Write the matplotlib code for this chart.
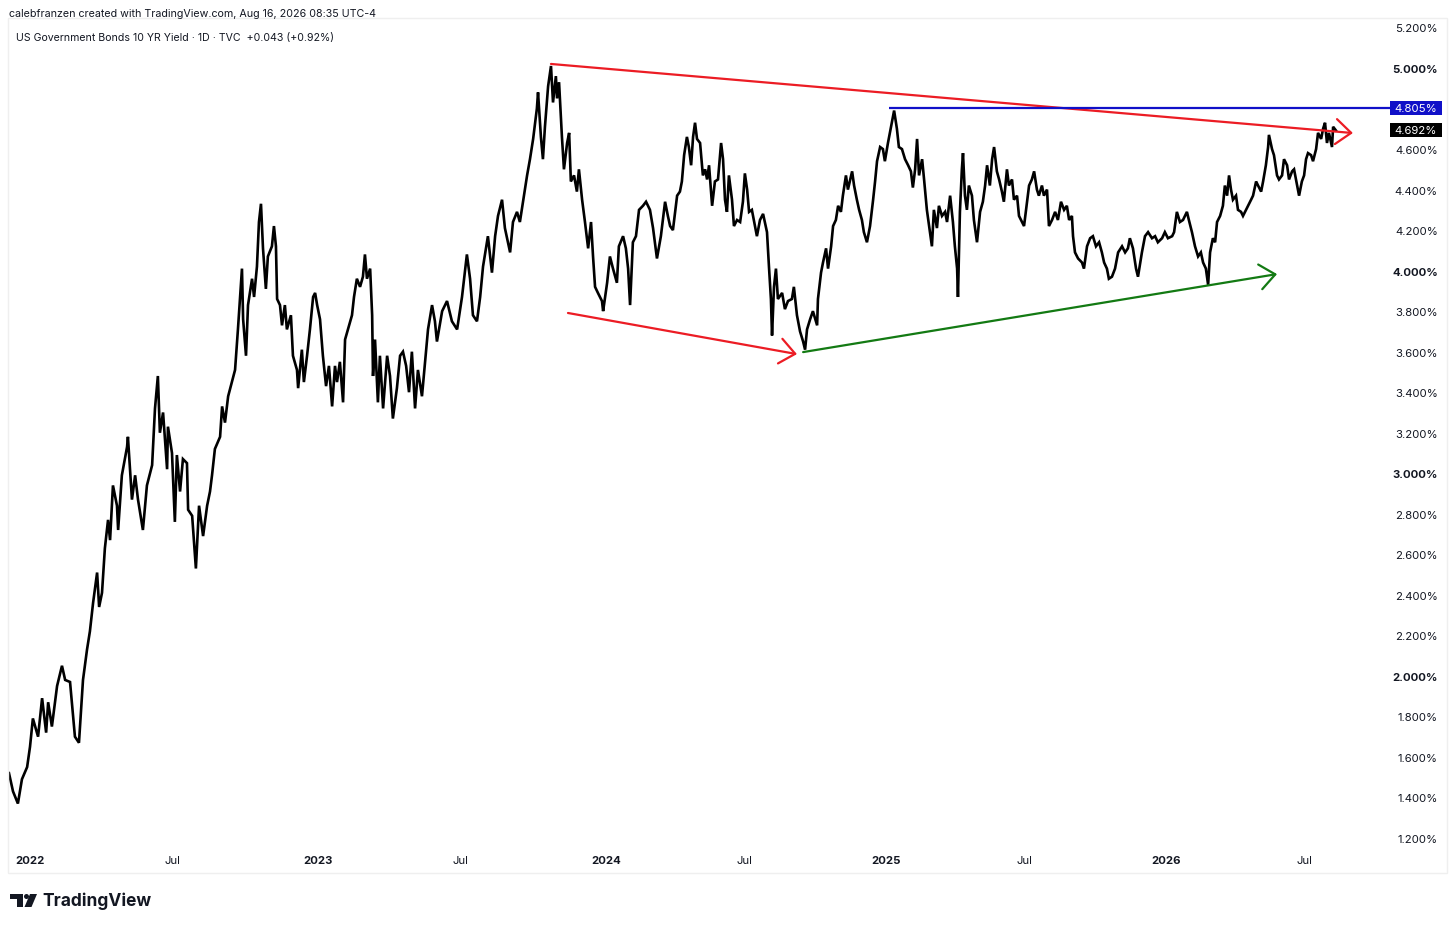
import numpy as np
import matplotlib.pyplot as plt
from matplotlib.patches import Rectangle, Ellipse, Polygon
from matplotlib.transforms import blended_transform_factory

plt.rcParams['font.family'] = ['Inter', 'DejaVu Sans']

# daily-ish closes: (decimal year, yield %)
pts_2022 = [
    (2021.927, 1.52), (2021.941, 1.43), (2021.958, 1.37), (2021.972, 1.49), (2021.990, 1.55),
    (2022.000, 1.65), (2022.010, 1.79), (2022.028, 1.70), (2022.042, 1.89), (2022.056, 1.72),
    (2022.063, 1.87), (2022.076, 1.75), (2022.094, 1.95), (2022.111, 2.05), (2022.122, 1.98),
    (2022.139, 1.97), (2022.156, 1.70), (2022.170, 1.67), (2022.184, 1.98), (2022.198, 2.13),
    (2022.208, 2.22), (2022.219, 2.36), (2022.233, 2.51), (2022.240, 2.34), (2022.250, 2.41),
    (2022.260, 2.63), (2022.271, 2.77), (2022.278, 2.67), (2022.288, 2.94), (2022.302, 2.84),
    (2022.306, 2.72), (2022.319, 2.99), (2022.337, 3.13), (2022.340, 3.18), (2022.354, 2.87),
    (2022.365, 2.99), (2022.375, 2.87), (2022.392, 2.72), (2022.406, 2.94), (2022.424, 3.04),
    (2022.434, 3.32), (2022.444, 3.48), (2022.451, 3.20), (2022.462, 3.30), (2022.476, 3.02),
    (2022.479, 3.23), (2022.493, 3.10), (2022.503, 2.76), (2022.510, 3.09), (2022.521, 2.91),
    (2022.531, 3.07), (2022.545, 3.05), (2022.549, 2.82), (2022.563, 2.79), (2022.576, 2.53),
    (2022.587, 2.84), (2022.601, 2.69), (2022.615, 2.84), (2022.625, 2.91), (2022.632, 2.99),
    (2022.642, 3.12), (2022.660, 3.18), (2022.667, 3.33), (2022.677, 3.25), (2022.688, 3.38),
    (2022.701, 3.45), (2022.712, 3.51), (2022.722, 3.71), (2022.733, 3.94), (2022.736, 4.01),
    (2022.740, 3.76), (2022.750, 3.58), (2022.757, 3.83), (2022.771, 3.96), (2022.778, 3.87),
    (2022.788, 4.02), (2022.795, 4.24), (2022.802, 4.33), (2022.809, 4.11), (2022.819, 3.91),
    (2022.826, 4.07), (2022.840, 4.12), (2022.847, 4.22), (2022.854, 4.12), (2022.858, 3.86),
    (2022.868, 3.83), (2022.875, 3.73), (2022.885, 3.83), (2022.892, 3.71), (2022.906, 3.78),
    (2022.913, 3.58), (2022.927, 3.51), (2022.931, 3.42), (2022.944, 3.61), (2022.951, 3.45),
    (2022.962, 3.58), (2022.972, 3.71), (2022.983, 3.87), (2022.990, 3.89), (2022.997, 3.83),
]

pts_2023 = [
    (2023.007, 3.76), (2023.017, 3.58), (2023.028, 3.43), (2023.038, 3.53), (2023.049, 3.33),
    (2023.059, 3.53), (2023.066, 3.45), (2023.076, 3.55), (2023.087, 3.35), (2023.094, 3.66),
    (2023.104, 3.71), (2023.118, 3.78), (2023.125, 3.87), (2023.135, 3.96), (2023.146, 3.92),
    (2023.156, 3.97), (2023.163, 4.08), (2023.170, 3.96), (2023.181, 4.01), (2023.188, 3.78),
    (2023.191, 3.48), (2023.198, 3.66), (2023.208, 3.35), (2023.215, 3.58), (2023.226, 3.32),
    (2023.240, 3.58), (2023.250, 3.48), (2023.260, 3.27), (2023.274, 3.42), (2023.285, 3.58),
    (2023.295, 3.60), (2023.306, 3.53), (2023.316, 3.40), (2023.326, 3.60), (2023.337, 3.32),
    (2023.347, 3.51), (2023.361, 3.38), (2023.372, 3.55), (2023.382, 3.71), (2023.396, 3.83),
    (2023.406, 3.75), (2023.413, 3.65), (2023.431, 3.80), (2023.448, 3.85), (2023.465, 3.75),
    (2023.483, 3.71), (2023.500, 3.87), (2023.517, 4.08), (2023.528, 3.96), (2023.538, 3.78),
    (2023.552, 3.75), (2023.563, 3.87), (2023.573, 4.02), (2023.590, 4.17), (2023.604, 3.99),
    (2023.615, 4.17), (2023.625, 4.27), (2023.639, 4.35), (2023.649, 4.21), (2023.667, 4.09),
    (2023.677, 4.24), (2023.691, 4.29), (2023.701, 4.24), (2023.712, 4.34), (2023.726, 4.47),
    (2023.736, 4.55), (2023.747, 4.65), (2023.760, 4.80), (2023.764, 4.88), (2023.774, 4.66),
    (2023.781, 4.55), (2023.788, 4.71), (2023.799, 4.91), (2023.809, 5.01), (2023.816, 4.83),
    (2023.826, 4.96), (2023.830, 4.85), (2023.837, 4.93), (2023.847, 4.66), (2023.854, 4.50),
    (2023.865, 4.63), (2023.872, 4.68), (2023.878, 4.44), (2023.889, 4.47), (2023.899, 4.39),
    (2023.906, 4.50), (2023.917, 4.35), (2023.927, 4.24), (2023.938, 4.11), (2023.948, 4.24),
    (2023.955, 4.07), (2023.962, 3.92), (2023.972, 3.89), (2023.986, 3.85), (2023.990, 3.80),
]

pts_2024 = [
    (2024.004, 3.94), (2024.014, 4.07), (2024.025, 4.01), (2024.039, 3.94), (2024.046, 4.12),
    (2024.061, 4.17), (2024.071, 4.11), (2024.079, 4.01), (2024.086, 3.83), (2024.096, 4.14),
    (2024.107, 4.17), (2024.118, 4.30), (2024.132, 4.32), (2024.143, 4.34), (2024.157, 4.30),
    (2024.168, 4.21), (2024.182, 4.06), (2024.196, 4.17), (2024.211, 4.34), (2024.221, 4.27),
    (2024.229, 4.22), (2024.239, 4.20), (2024.254, 4.37), (2024.264, 4.39), (2024.271, 4.44),
    (2024.279, 4.57), (2024.289, 4.66), (2024.296, 4.61), (2024.304, 4.52), (2024.311, 4.66),
    (2024.318, 4.73), (2024.325, 4.65), (2024.336, 4.63), (2024.346, 4.47), (2024.354, 4.50),
    (2024.361, 4.45), (2024.368, 4.52), (2024.379, 4.32), (2024.389, 4.44), (2024.400, 4.45),
    (2024.411, 4.63), (2024.418, 4.55), (2024.425, 4.35), (2024.432, 4.29), (2024.439, 4.47),
    (2024.450, 4.35), (2024.457, 4.22), (2024.468, 4.25), (2024.479, 4.24), (2024.489, 4.34),
    (2024.496, 4.48), (2024.504, 4.40), (2024.511, 4.29), (2024.521, 4.30), (2024.532, 4.22),
    (2024.539, 4.17), (2024.550, 4.25), (2024.561, 4.28), (2024.575, 4.19), (2024.582, 4.02),
    (2024.589, 3.86), (2024.593, 3.68), (2024.600, 3.92), (2024.607, 4.01), (2024.614, 3.86),
    (2024.629, 3.89), (2024.639, 3.81), (2024.650, 3.85), (2024.664, 3.86), (2024.671, 3.92),
    (2024.682, 3.78), (2024.693, 3.70), (2024.704, 3.65), (2024.711, 3.61), (2024.718, 3.71),
    (2024.729, 3.76), (2024.739, 3.80), (2024.754, 3.73), (2024.757, 3.86), (2024.768, 3.99),
    (2024.775, 4.04), (2024.786, 4.11), (2024.793, 4.01), (2024.804, 4.12), (2024.811, 4.22),
    (2024.821, 4.25), (2024.829, 4.32), (2024.839, 4.29), (2024.846, 4.37), (2024.857, 4.47),
    (2024.864, 4.40), (2024.879, 4.49), (2024.886, 4.42), (2024.896, 4.35), (2024.904, 4.30),
    (2024.914, 4.25), (2024.921, 4.19), (2024.932, 4.14), (2024.943, 4.22), (2024.954, 4.35),
    (2024.961, 4.44), (2024.968, 4.54), (2024.979, 4.61), (2024.989, 4.60), (2024.996, 4.54),
]

pts_2025 = [
    (2025.007, 4.63), (2025.018, 4.71), (2025.029, 4.79), (2025.039, 4.70), (2025.046, 4.61),
    (2025.057, 4.60), (2025.068, 4.55), (2025.079, 4.52), (2025.089, 4.49), (2025.096, 4.41),
    (2025.104, 4.50), (2025.111, 4.65), (2025.118, 4.47), (2025.129, 4.55), (2025.136, 4.45),
    (2025.146, 4.30), (2025.154, 4.22), (2025.164, 4.12), (2025.171, 4.30), (2025.182, 4.21),
    (2025.189, 4.32), (2025.200, 4.27), (2025.211, 4.29), (2025.218, 4.24), (2025.229, 4.37),
    (2025.239, 4.24), (2025.246, 4.12), (2025.254, 4.01), (2025.257, 3.87), (2025.264, 4.29),
    (2025.271, 4.50), (2025.275, 4.58), (2025.282, 4.37), (2025.289, 4.30), (2025.296, 4.42),
    (2025.307, 4.37), (2025.314, 4.25), (2025.325, 4.14), (2025.336, 4.29), (2025.346, 4.34),
    (2025.354, 4.42), (2025.361, 4.52), (2025.371, 4.42), (2025.379, 4.55), (2025.386, 4.61),
    (2025.396, 4.49), (2025.404, 4.45), (2025.414, 4.39), (2025.421, 4.34), (2025.432, 4.50),
    (2025.439, 4.42), (2025.450, 4.45), (2025.457, 4.35), (2025.468, 4.37), (2025.475, 4.27),
    (2025.486, 4.24), (2025.493, 4.22), (2025.504, 4.34), (2025.511, 4.42), (2025.521, 4.45),
    (2025.529, 4.49), (2025.539, 4.40), (2025.546, 4.37), (2025.557, 4.42), (2025.564, 4.37),
    (2025.575, 4.40), (2025.582, 4.22), (2025.593, 4.25), (2025.604, 4.29), (2025.614, 4.25),
    (2025.625, 4.34), (2025.636, 4.30), (2025.646, 4.32), (2025.654, 4.25), (2025.664, 4.27),
    (2025.668, 4.17), (2025.675, 4.09), (2025.686, 4.06), (2025.700, 4.04), (2025.707, 4.01),
    (2025.718, 4.12), (2025.729, 4.16), (2025.739, 4.17), (2025.750, 4.12), (2025.761, 4.14),
    (2025.771, 4.09), (2025.779, 4.04), (2025.789, 4.01), (2025.796, 3.96), (2025.807, 3.97),
    (2025.818, 4.01), (2025.829, 4.09), (2025.843, 4.12), (2025.854, 4.09), (2025.864, 4.11),
    (2025.871, 4.16), (2025.882, 4.11), (2025.893, 4.01), (2025.900, 3.97), (2025.914, 4.09),
    (2025.925, 4.17), (2025.936, 4.19), (2025.950, 4.16), (2025.961, 4.17), (2025.971, 4.14),
    (2025.986, 4.16), (2025.996, 4.19),
]

pts_2026 = [
    (2026.007, 4.16), (2026.022, 4.17), (2026.029, 4.19), (2026.039, 4.29), (2026.050, 4.24),
    (2026.061, 4.25), (2026.075, 4.29), (2026.082, 4.25), (2026.093, 4.19), (2026.104, 4.12),
    (2026.115, 4.07), (2026.125, 4.09), (2026.133, 4.04), (2026.143, 4.01), (2026.151, 3.93),
    (2026.158, 4.09), (2026.168, 4.16), (2026.176, 4.14), (2026.183, 4.24), (2026.194, 4.27),
    (2026.204, 4.32), (2026.211, 4.42), (2026.219, 4.37), (2026.226, 4.47), (2026.233, 4.40),
    (2026.240, 4.35), (2026.251, 4.37), (2026.258, 4.30), (2026.269, 4.29), (2026.276, 4.27),
    (2026.287, 4.30), (2026.294, 4.32), (2026.305, 4.35), (2026.312, 4.37), (2026.323, 4.44),
    (2026.330, 4.42), (2026.341, 4.39), (2026.348, 4.44), (2026.358, 4.52), (2026.366, 4.61),
    (2026.369, 4.67), (2026.380, 4.60), (2026.387, 4.57), (2026.398, 4.47), (2026.405, 4.45),
    (2026.416, 4.47), (2026.423, 4.55), (2026.434, 4.52), (2026.441, 4.45), (2026.452, 4.49),
    (2026.459, 4.50), (2026.470, 4.42), (2026.477, 4.37), (2026.487, 4.44), (2026.495, 4.47),
    (2026.502, 4.55), (2026.509, 4.58), (2026.520, 4.57), (2026.527, 4.54), (2026.538, 4.60),
    (2026.545, 4.68), (2026.556, 4.65), (2026.563, 4.70), (2026.570, 4.73), (2026.577, 4.63),
    (2026.584, 4.68), (2026.595, 4.61), (2026.599, 4.71), (2026.609, 4.692),
]

# drawn trend lines: (start, end) as (decimal year, yield %)
upper_red = [(2023.809, 5.020), (2026.670, 4.679)]
lower_red = [(2023.868, 3.791), (2024.682, 3.588)]
green_line = [(2024.704, 3.598), (2026.398, 3.983)]
resistance_start = 2025.011
resistance_level = 4.805
last_price = 4.692

y_ticks = [1.2, 1.4, 1.6, 1.8, 2.0, 2.2, 2.4, 2.6, 2.8, 3.0, 3.2, 3.4, 3.6,
           3.8, 4.0, 4.2, 4.4, 4.6, 5.0, 5.2]
years = [2022, 2023, 2024, 2025, 2026]

t = np.array([p[0] for p in pts_2022 + pts_2023 + pts_2024 + pts_2025 + pts_2026])
v = np.array([p[1] for p in pts_2022 + pts_2023 + pts_2024 + pts_2025 + pts_2026])

W, H = 1456, 928
TXT = '#131722'
RED = '#ec1c24'
BLUE = '#1010c8'
GREEN = '#137a13'

# TradingView spaces bars, not calendar days: years are not all equally wide
knot_t = np.array([2021, 2022, 2023, 2024, 2025, 2026, 2027], dtype=float)
knot_u = np.array([0, 288, 576, 864, 1144, 1424, 1703], dtype=float)


def fwd(x):
    return np.interp(x, knot_t, knot_u)


def inv(u):
    return np.interp(u, knot_u, knot_t)


fig = plt.figure(figsize=(W / 100, H / 100), dpi=100)
fig.patch.set_facecolor('white')

# chart panel border
fig.patches.append(Rectangle((8 / W, 1 - 874 / H), 1439 / W, 855 / H,
                             transform=fig.transFigure, fill=False,
                             edgecolor='#efefef', lw=1))

ax = fig.add_axes([8 / W, 1 - 850 / H, 1382 / W, 828 / H])
ax.set_facecolor('none')
for s in ax.spines.values():
    s.set_visible(False)
ax.set_xscale('function', functions=(fwd, inv))

ax.plot(t, v, color='black', lw=1.9, zorder=3, solid_joinstyle='miter')

ax.set_xlim(2021.9236, 2026.8029)
ax.set_ylim(1.1457, 5.232)

# annotations
for (x0, y0), (x1, y1), col in [(upper_red[0], upper_red[1], RED),
                                (lower_red[0], lower_red[1], RED),
                                (green_line[0], green_line[1], GREEN)]:
    ax.annotate('', xy=(x1, y1), xytext=(x0, y0),
                arrowprops=dict(arrowstyle='->,head_length=0.55,head_width=0.45',
                                color=col, lw=1.6, shrinkA=0, shrinkB=0,
                                mutation_scale=20), zorder=4)

ax.plot([resistance_start, ax.get_xlim()[1]], [resistance_level] * 2,
        color=BLUE, lw=1.6, zorder=4, solid_capstyle='butt')

# price scale
ax.yaxis.tick_right()
ax.set_yticks(y_ticks)
ax.set_yticklabels([f'{y:.3f}%' for y in y_ticks])
ax.tick_params(axis='y', length=0, pad=34.5, labelsize=8.2, labelcolor=TXT)
for lbl, y in zip(ax.get_yticklabels(), y_ticks):
    lbl.set_horizontalalignment('right')
    if abs(y - round(y)) < 1e-9:
        lbl.set_fontweight('bold')

x_ticks, x_labels = [], []
for yr in years:
    x_ticks += [yr, yr + 0.495]
    x_labels += [str(yr), 'Jul']
ax.set_xticks(x_ticks)
ax.set_xticklabels(x_labels)
ax.xaxis.set_minor_locator(plt.NullLocator())
ax.tick_params(axis='x', length=0, pad=4.5, labelsize=8.2, labelcolor=TXT)
for lbl, name in zip(ax.get_xticklabels(), x_labels):
    if name != 'Jul':
        lbl.set_fontweight('bold')

# price labels on the scale
bt = blended_transform_factory(ax.transAxes, ax.transData)
box_w = 52 / 1382
box_h = 14 / 202.6
for val, col in [(resistance_level, BLUE), (last_price, 'black')]:
    ax.add_patch(Rectangle((1.0, val - box_h / 2), box_w, box_h, transform=bt,
                           facecolor=col, edgecolor='none', clip_on=False, zorder=5))
    ax.text(1.0 + box_w / 2, val, f'{val:.3f}%', transform=bt, ha='center',
            va='center', color='white', fontsize=8.2, zorder=6, clip_on=False)

# header
fig.text(9 / W, 1 - 14 / H, 'calebfranzen created with TradingView.com, Aug 16, 2026 08:35 UTC-4',
         fontsize=7.7, color=TXT, va='center')
fig.text(16 / W, 1 - 38 / H, 'US Government Bonds 10 YR Yield \u00b7 1D \u00b7 TVC  +0.043 (+0.92%)',
         fontsize=7.6, color=TXT, va='center')


# TradingView logo
def px(x, y):
    return (x / W, 1 - y / H)


tf = fig.transFigure
fig.patches.append(Polygon([px(10, 895), px(23, 895), px(23, 908), px(17, 908),
                            px(17, 899.5), px(10, 899.5)], closed=True,
                           transform=tf, facecolor=TXT, edgecolor='none'))
fig.patches.append(Ellipse(px(26.5, 897.5), 5 / W, 5 / H, transform=tf,
                           facecolor=TXT, edgecolor='none'))
fig.patches.append(Polygon([px(30, 895), px(37, 895), px(31.5, 908), px(24.5, 908)],
                           closed=True, transform=tf, facecolor=TXT, edgecolor='none'))
fig.text(42 / W, 1 - 901 / H, 'TradingView', fontsize=12.5, fontweight='bold',
         color=TXT, va='center')

fig.savefig('out.png', dpi=100, facecolor='white')
